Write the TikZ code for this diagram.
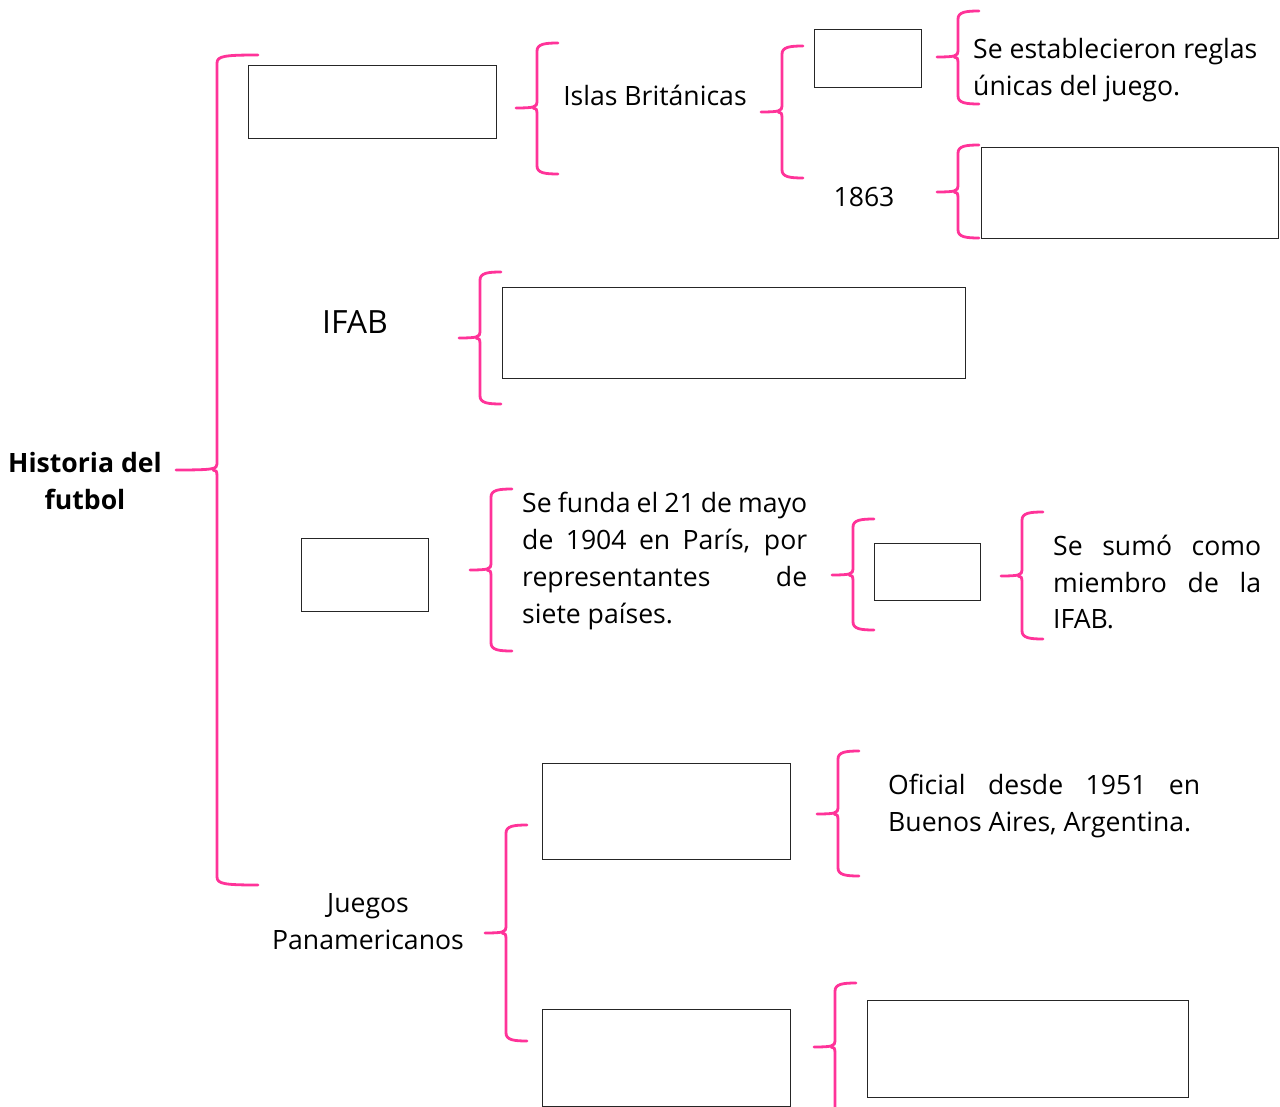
\documentclass[tikz,border=0pt]{standalone}
\usepackage{fontspec}
\setmainfont{Open Sans}
\usepackage{xcolor}
\usetikzlibrary{positioning}
\definecolor{llave}{RGB}{255,51,153}

% left curly brace: [half width] vertical x, top y, tip y, bottom y
\newcommand{\brc}[5][21]{%
  \draw[brace] (#2+#1,#3) .. controls (#2+8,#3) and (#2,#3+1) .. (#2,#3+8)
    -- (#2,#4-6) .. controls (#2,#4-1) and (#2-3,#4) .. (#2-#1,#4)
    (#2-4,#4) .. controls (#2-1,#4) and (#2,#4+1) .. (#2,#4+6)
    -- (#2,#5-8) .. controls (#2,#5-1) and (#2+8,#5) .. (#2+#1,#5);}

\begin{document}
\begin{tikzpicture}[x=1pt, y=-1pt,
  blank/.style={draw=black!85, line width=1.2pt, fill=white, anchor=north west},
  brace/.style={draw=llave, line width=2.8pt, line cap=round},
  txt/.style={inner sep=0pt, font=\fontsize{26.6}{36.8}\selectfont},
  lines/.style={txt, align=left, anchor=west}
]
\useasboundingbox (0,0) rectangle (1280,1107);

\node[txt, align=center, font=\fontsize{26.6}{37}\selectfont\bfseries] (titulo) at (85,481) {Historia del\\futbol};
\brc[41]{217}{55}{470}{885}

% origen
\node[blank, minimum width=248, minimum height=73] (origen) at (248,65) {};
\brc{537}{43}{108}{174}
\node[txt] (islas) at (655,95) {Islas Británicas};
\brc{782}{46}{112}{178}
\node[blank, minimum width=107, minimum height=58] (hecho) at (814,29) {};
\brc{958}{11}{57}{104}
\node[lines] (reglas) at (973,70) {Se establecieron reglas\\únicas del juego.};
\node[txt] (anio) at (864,197) {1863};
\brc{958}{145}{192}{238}
\node[blank, minimum width=297, minimum height=91] (fundacion) at (981,147) {};

% IFAB
\node[txt, font=\fontsize{32}{38}\selectfont] (ifab) at (355,322) {IFAB};
\brc{480}{272}{338}{404}
\node[blank, minimum width=463, minimum height=91] (ifabdef) at (502,287) {};

% FIFA
\node[blank, minimum width=127, minimum height=73] (sigla) at (301,538) {};
\brc{491}{489}{570}{651}
\node[lines] (funda) at (522,561) {\makebox[285pt][s]{Se funda el 21 de mayo}\\
  \makebox[285pt][s]{de 1904 en París, por}\\
  \makebox[285pt][s]{representantes de}\\siete países.};
\brc{853}{519}{575}{630}
\node[blank, minimum width=106, minimum height=57] (anio2) at (874,543) {};
\brc{1022}{512}{576}{639}
\node[lines] (sumo) at (1053,582) {\makebox[208pt][s]{Se sumó como}\\
  \makebox[208pt][s]{miembro de la}\\IFAB.};

% Juegos Panamericanos
\node[txt, align=center] (juegos) at (368,922) {Juegos\\Panamericanos};
\brc{506}{825}{933}{1041}
\node[blank, minimum width=248, minimum height=96] (torneo) at (542,763) {};
\brc{838}{751}{814}{876}
\node[lines] (oficial) at (888,806) {\makebox[312pt][s]{Oficial desde 1951 en}\\Buenos Aires, Argentina.};
\node[blank, minimum width=248, minimum height=97] (futbolf) at (542,1009) {};
\brc{835}{983}{1047}{1160}
\node[blank, minimum width=321, minimum height=97] (futbolfdef) at (867,1000) {};
\end{tikzpicture}
\end{document}
